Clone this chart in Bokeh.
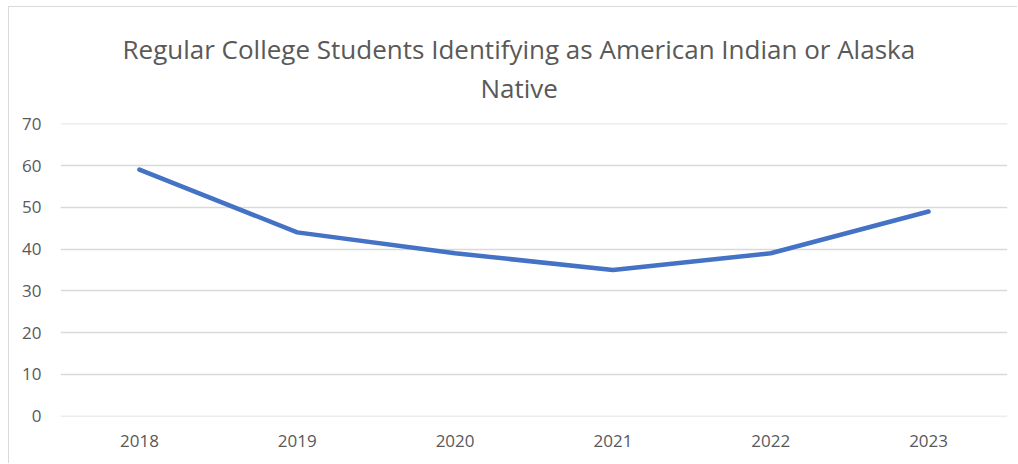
from bokeh.plotting import figure
from bokeh.models import FactorRange, Range1d, Title, SingleIntervalTicker
from bokeh.embed import file_html
from bokeh.resources import INLINE

years = ["2018", "2019", "2020", "2021", "2022", "2023"]
students = [59, 44, 39, 35, 39, 49]
title_lines = ["Regular College Students Identifying as American Indian or Alaska", "Native"]

FONT = "Open Sans"
TEXT = "#595959"

p = figure(width=1009, height=457, x_range=FactorRange(*years), y_range=Range1d(-0.05, 70.05),
           output_backend="svg", toolbar_location=None,
           min_border_left=51, min_border_right=11, min_border_top=116, min_border_bottom=48,
           styles={"margin-left": "8px", "margin-top": "6px",
                   "border-left": "1px solid #d9d9d9", "border-top": "1px solid #d9d9d9"})
p.x_range.range_padding = 0
p.outline_line_color = None
p.background_fill_color = "white"
p.border_fill_color = "white"

p.line(x=years, y=students, line_color="#4472C4", line_width=4.5, line_cap="round", line_join="round")

p.yaxis.ticker = SingleIntervalTicker(interval=10)
for ax in (p.xaxis[0], p.yaxis[0]):
    ax.axis_line_color = None
    ax.major_tick_line_color = None
    ax.minor_tick_line_color = None
    ax.major_label_text_font = FONT
    ax.major_label_text_font_size = "17px"
    ax.major_label_text_color = TEXT
p.xaxis.major_label_standoff = 12
p.yaxis.major_label_standoff = 13

p.xgrid.grid_line_color = None
p.ygrid.grid_line_color = "#d9d9d9"
p.ygrid.grid_line_width = 1.5

# stacked from the frame outward: second line first (left-aligned, shifted to sit centred on the chart box)
p.add_layout(Title(text=title_lines[1], align="left", offset=420, text_font=FONT, text_font_size="26px",
                   text_color=TEXT, text_font_style="normal", standoff=35), "above")
p.add_layout(Title(text=title_lines[0], align="left", offset=62, text_font=FONT, text_font_size="26px",
                   text_color=TEXT, text_font_style="normal", standoff=-32), "above")

open("out.html", "w").write(file_html(p, INLINE))
